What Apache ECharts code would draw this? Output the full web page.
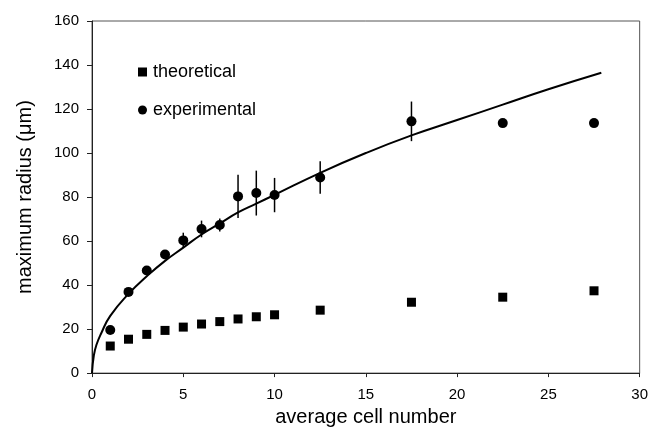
<!DOCTYPE html>
<html>
<head>
<meta charset="utf-8">
<script src="https://cdn.jsdelivr.net/npm/echarts@6/dist/echarts.min.js"></script>
<style>
  html, body { margin: 0; padding: 0; background: #fff; }
  #chart { width: 651px; height: 432px; }
</style>
</head>
<body>
<div id="chart"></div>
<script type="text/javascript">
// cell numbers
var cellNumbers = [1, 2, 3, 4, 5, 6, 7, 8, 9, 10, 12.5, 17.5, 22.5, 27.5];
// theoretical radius (squares)
var theoretical = [12.3, 15.4, 17.6, 19.4, 20.9, 22.3, 23.4, 24.6, 25.6, 26.5, 28.6, 32.2, 34.5, 37.4];
// experimental radius (circles)
var experimental = [19.6, 36.9, 46.6, 53.9, 60.3, 65.5, 67.3, 80.3, 81.8, 80.9, 88.9, 114.4, 113.6, 113.6];
// half length of error bars (0 = none visible)
var expError = [0, 0, 1.5, 2, 3.5, 3.8, 3, 9.8, 10.2, 7.8, 7.4, 9, 0, 0];
// fitted curve
var fitX = [0, 0.1, 0.25, 0.5, 1, 2, 3, 4, 5, 6, 7, 8, 9, 10, 12.5, 15, 17.5, 20, 22.5, 25, 27.9];
var fitY = [0, 8, 13, 18, 26, 36, 44, 51, 57, 63, 68, 73, 77, 81, 91, 100, 108, 115, 122, 129, 136.5];

var font = "'Liberation Sans', Arial, sans-serif";

var chart = echarts.init(document.getElementById('chart'));

var theoData = cellNumbers.map(function (x, i) { return [x, theoretical[i]]; });
var expData = cellNumbers.map(function (x, i) { return [x, experimental[i]]; });
var errData = cellNumbers.map(function (x, i) {
  return [x, experimental[i] - expError[i], experimental[i] + expError[i]];
}).filter(function (d, i) { return expError[i] > 0; });
var fitData = fitX.map(function (x, i) { return [x, fitY[i]]; });

chart.setOption({
  animation: false,
  backgroundColor: '#fff',
  grid: {
    left: 92, right: 9, top: 21, bottom: 57,
    show: true, borderColor: '#555', borderWidth: 1
  },
  legend: {
    orient: 'vertical',
    left: 133, top: 58,
    itemWidth: 9, itemHeight: 9, itemGap: 20,
    data: [
      { name: 'theoretical', icon: 'rect' },
      { name: 'experimental', icon: 'circle' }
    ],
    textStyle: { fontFamily: font, fontSize: 18, color: '#000', padding: [0, 0, 0, 1] }
  },
  xAxis: {
    type: 'value', min: 0, max: 30, interval: 5,
    name: 'average cell number', nameLocation: 'middle', nameGap: 26,
    nameTextStyle: { fontFamily: font, fontSize: 20, color: '#000' },
    axisLine: { show: true, onZero: false, lineStyle: { color: '#222', width: 1 } },
    axisTick: { show: true, length: 4, lineStyle: { color: '#222' } },
    axisLabel: { fontFamily: font, fontSize: 15, color: '#000', margin: 14 },
    splitLine: { show: false }
  },
  yAxis: {
    type: 'value', min: 0, max: 160, interval: 20,
    name: 'maximum radius (μm)', nameLocation: 'middle', nameGap: 57,
    nameTextStyle: { fontFamily: font, fontSize: 20, color: '#000' },
    axisLine: { show: true, onZero: false, lineStyle: { color: '#222', width: 1 } },
    axisTick: { show: true, length: 5, lineStyle: { color: '#222' } },
    axisLabel: { fontFamily: font, fontSize: 15, color: '#000', margin: 13 },
    splitLine: { show: false }
  },
  series: [
    {
      name: 'fit',
      type: 'line',
      data: fitData,
      smooth: true,
      showSymbol: false,
      lineStyle: { color: '#000', width: 2 },
      z: 2
    },
    {
      name: 'errors',
      type: 'custom',
      data: errData,
      renderItem: function (params, api) {
        var lo = api.coord([api.value(0), api.value(1)]);
        var hi = api.coord([api.value(0), api.value(2)]);
        return {
          type: 'line',
          shape: { x1: lo[0], y1: lo[1], x2: hi[0], y2: hi[1] },
          style: { stroke: '#000', lineWidth: 1.5 }
        };
      },
      z: 3
    },
    {
      name: 'theoretical',
      type: 'scatter',
      data: theoData,
      symbol: 'rect',
      symbolSize: 9,
      itemStyle: { color: '#000', opacity: 1 },
      z: 4
    },
    {
      name: 'experimental',
      type: 'scatter',
      data: expData,
      symbol: 'circle',
      symbolSize: 10,
      itemStyle: { color: '#000', opacity: 1 },
      z: 4
    }
  ]
});
</script>
</body>
</html>
